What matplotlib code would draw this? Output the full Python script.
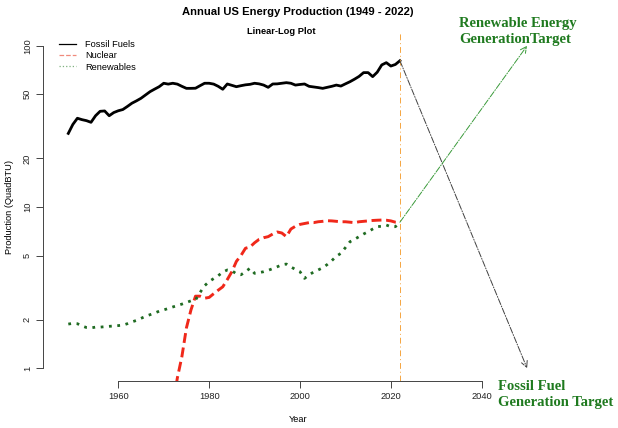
import matplotlib.pyplot as plt
import numpy as np
from matplotlib.lines import Line2D
from matplotlib.ticker import NullLocator

# annual US energy production, quad BTU
years = np.arange(1949, 2023)
fossil = [28.6, 32.5, 35.5, 34.8, 34.3, 33.5, 36.8, 39.2, 39.4, 36.8,    # 1949-58
          38.5, 39.5, 40.2, 42.0, 44.0, 45.5, 47.2, 49.5, 51.9, 53.8,    # 1959-68
          55.7, 58.5, 57.8, 58.5, 57.8, 56.0, 54.4, 54.4, 54.5, 56.5,    # 1969-78
          58.5, 58.5, 57.8, 56.0, 53.7, 57.9, 56.8, 55.7, 56.5, 57.2,    # 1979-88
          57.6, 58.5, 58.0, 57.0, 55.2, 57.9, 58.0, 58.5, 59.0, 58.5,    # 1989-98
          57.0, 57.5, 57.9, 56.0, 55.5, 55.0, 54.4, 55.2, 56.0, 57.0,    # 1999-2008
          56.2, 58.0, 59.8, 62.0, 64.5, 68.1, 68.1, 64.3, 68.5, 76.0,    # 2009-18
          78.5, 74.8, 76.5, 80.7]                                        # 2019-22

nuclear_years = np.arange(1957, 2023)
nuclear = [0.0001, 0.002, 0.002, 0.006, 0.02, 0.026, 0.038, 0.04, 0.043, 0.064,  # 1957-66
           0.088, 0.14, 0.15, 0.24, 0.41, 0.58, 0.87, 1.18, 1.78, 2.3,           # 1967-76
           2.8, 2.8, 2.72, 2.75, 2.9, 3.05, 3.2, 3.55, 3.97, 4.6,               # 1977-86
           5.0, 5.55, 5.65, 6.0, 6.3, 6.45, 6.55, 6.8, 7.0, 6.9,                # 1987-96
           6.55, 7.3, 7.6, 7.8, 7.9, 8.0, 8.0, 8.1, 8.15, 8.22,                 # 1997-2006
           8.2, 8.15, 8.1, 8.1, 8.05, 8.0, 8.1, 8.15, 8.2, 8.25,                # 2007-16
           8.28, 8.3, 8.28, 8.2, 8.05, 8.0]                                     # 2017-22

renewables = [1.88, 1.90, 1.89, 1.83, 1.79, 1.78, 1.80, 1.80, 1.81, 1.82,  # 1949-58
              1.83, 1.84, 1.85, 1.89, 1.94, 1.98, 2.04, 2.10, 2.15, 2.20,  # 1959-68
              2.26, 2.30, 2.35, 2.40, 2.45, 2.50, 2.56, 2.62, 2.65, 2.95,  # 1969-78
              3.25, 3.45, 3.60, 3.75, 3.95, 4.07, 4.03, 3.85, 3.80, 3.97,  # 1979-88
              4.17, 3.88, 3.92, 3.97, 4.05, 4.15, 4.26, 4.38, 4.43, 4.25,  # 1989-98
              4.10, 3.97, 3.61, 3.80, 3.95, 4.07, 4.20, 4.40, 4.65, 4.95,  # 1999-2008
              5.16, 5.60, 6.09, 6.30, 6.55, 6.80, 7.03, 7.30, 7.55, 7.60,  # 2009-18
              7.73, 7.55, 7.55, 8.05]                                      # 2019-22

target_year = 2050
renew_target = 100
fossil_target = 1

xticks = [1960, 1980, 2000, 2020, 2040]
yticks = [1, 2, 5, 10, 20, 50, 100]

plt.rcParams['font.family'] = ['Liberation Sans', 'DejaVu Sans']

W, H = 618, 428
fig = plt.figure(figsize=(W / 100, H / 100), dpi=100)
ax = fig.add_axes([43 / W, 1 - 381.2 / H, (582 - 43) / W, (381.2 - 32.8) / H])

ax.plot(years, fossil, color='black', lw=2.0, solid_joinstyle='round')
ax.plot(nuclear_years, nuclear, color='#f0281a', lw=2.1, dashes=(3.4, 1.6))
ax.plot(years, renewables, color='#1f6b22', lw=2.0, dashes=(1.0, 2.0))

ax.axvline(2022, color='#f5a540', lw=0.7, ls=(0, (6, 3, 1, 3)))

ax.annotate('', xy=(target_year, fossil_target), xytext=(years[-1], fossil[-1]),
            arrowprops=dict(arrowstyle='->', color='#404040', lw=0.7, linestyle='-.',
                            shrinkA=0, shrinkB=0, mutation_scale=11))
ax.annotate('', xy=(target_year, renew_target), xytext=(years[-1], renewables[-1]),
            arrowprops=dict(arrowstyle='->', color='#3a9a3a', lw=0.7, linestyle='-.',
                            shrinkA=0, shrinkB=0, mutation_scale=11))

ax.set_yscale('log')
ax.set_xlim(1943.43, 2062.08)
ax.set_ylim(10 ** -0.08, 10 ** 2.08)
ax.set_xticks(xticks)
ax.set_yticks(yticks, labels=[str(v) for v in yticks])
ax.yaxis.set_minor_locator(NullLocator())
ax.tick_params(length=5, width=0.7, color='#444444', labelsize=6.7, pad=3,
               labelcolor='#222222')
plt.setp(ax.get_yticklabels(), rotation=90, va='center')

for s in ['top', 'right']:
    ax.spines[s].set_visible(False)
ax.spines['left'].set_bounds(1, 100)
ax.spines['bottom'].set_bounds(1960, 2040)
for s in ['left', 'bottom']:
    ax.spines[s].set_color('#444444')
    ax.spines[s].set_linewidth(0.7)

fig.text(298 / W, 1 - 12 / H, 'Annual US Energy Production (1949 - 2022)',
         ha='center', va='center', fontsize=8.1, fontweight='bold')
fig.text(281 / W, 1 - 31 / H, 'Linear-Log Plot', ha='center', va='center',
         fontsize=6.7, fontweight='bold')
fig.text(298 / W, 1 - 420 / H, 'Year', ha='center', va='center', fontsize=6.7)
fig.text(10 / W, 1 - 207 / H, 'Production (QuadBTU)', rotation=90,
         ha='center', va='center', fontsize=6.7)

handles = [Line2D([], [], color='black', lw=0.9),
           Line2D([], [], color='#f08a7c', lw=0.9, ls='--'),
           Line2D([], [], color='#7fb07f', lw=0.9, ls=':')]
fig.legend(handles, ['Fossil Fuels', 'Nuclear', 'Renewables'], loc='upper left',
           bbox_to_anchor=(59 / W, 1 - 40 / H), frameon=False, fontsize=6.7,
           handlelength=1.8, handletextpad=1.0, labelspacing=0.25,
           borderpad=0, borderaxespad=0)

green = '#1f7a1f'
fig.text(459 / W, 1 - 31.5 / H, 'Renewable Energy\nGenerationTarget', color=green,
         fontsize=10.5, family='Liberation Serif', fontweight='bold',
         ha='left', va='center', linespacing=1.3)
fig.text(498 / W, 1 - 394.5 / H, 'Fossil Fuel\nGeneration Target', color=green,
         fontsize=10.5, family='Liberation Serif', fontweight='bold',
         ha='left', va='center', linespacing=1.3)

fig.savefig('out.png', dpi=100)
